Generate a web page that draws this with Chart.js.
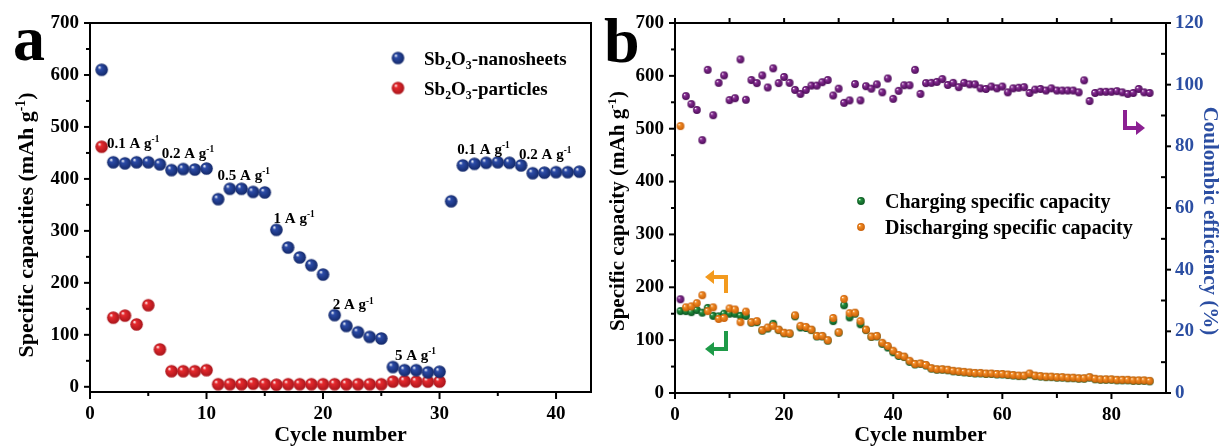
<!DOCTYPE html>
<html>
<head>
<meta charset="utf-8">
<script src="https://cdn.jsdelivr.net/npm/chart.js@4.4.1/dist/chart.umd.min.js"></script>
<style>
  html, body { margin: 0; padding: 0; background: #fff; }
  #wrap { position: relative; width: 1223px; height: 446px; }
  canvas { position: absolute; top: 0; }
  #rateChart { left: 0; }
  #cycleChart { left: 600px; }
</style>
</head>
<body>
<div id="wrap">
  <canvas id="rateChart" width="600" height="446"></canvas>
  <canvas id="cycleChart" width="623" height="446"></canvas>
</div>
<script>
// ---- (a) rate performance ----
const nanoCycles = [1, 2, 3, 4, 5, 6, 7, 8, 9, 10, 11, 12, 13, 14, 15, 16, 17, 18, 19, 20, 21,
  22, 23, 24, 25, 26, 27, 28, 29, 30, 31, 32, 33, 34, 35, 36, 37, 38, 39, 40, 41, 42];
const nanoCapacity = [610, 432, 430, 432, 432, 428, 417, 419, 418, 420,
  361, 381, 381, 375, 374, 302, 268, 249, 234, 216,
  138, 117, 105, 96, 93, 38, 32, 32, 28, 29,
  357, 426, 429, 431, 432, 431, 426, 411, 412, 413, 413, 414];
const particleCycles = [1, 2, 3, 4, 5, 6, 7, 8, 9, 10, 11, 12, 13, 14, 15,
  16, 17, 18, 19, 20, 21, 22, 23, 24, 25, 26, 27, 28, 29, 30];
const particleCapacity = [462, 133, 137, 120, 157, 72, 30, 30, 30, 32,
  5, 5, 5, 6, 5, 4, 5, 5, 5, 5, 5, 5, 5, 5, 5, 10, 11, 10, 10, 10];
const rateSteps = ['0.1', '0.2', '0.5', '1', '2', '5', '0.1', '0.2'];
const capTicksA = [0, 100, 200, 300, 400, 500, 600, 700];

// ---- (b) cycling at constant current ----
const cycles = [1, 2, 3, 4, 5, 6, 7, 8, 9, 10, 11, 12, 13, 14, 15, 16, 17, 18, 19, 20,
  21, 22, 23, 24, 25, 26, 27, 28, 29, 30, 31, 32, 33, 34, 35, 36, 37, 38, 39, 40,
  41, 42, 43, 44, 45, 46, 47, 48, 49, 50, 51, 52, 53, 54, 55, 56, 57, 58, 59, 60,
  61, 62, 63, 64, 65, 66, 67, 68, 69, 70, 71, 72, 73, 74, 75, 76, 77, 78, 79, 80,
  81, 82, 83, 84, 85, 86, 87];
const chargeCap = [155, 155, 153, 157, 152, 161, 146, 145, 150, 150,
  150, 146, 146, 133, 134, 118, 122, 131, 119, 113,
  112, 145, 124, 123, 119, 107, 107, 99, 136, 114,
  166, 143, 150, 130, 119, 106, 107, 93, 86, 77,
  70, 68, 59, 54, 55, 52, 46, 44, 44, 43,
  41, 40, 39, 38, 37, 37, 36, 36, 35, 35,
  34, 33, 32, 32, 35, 32, 31, 30, 30, 29,
  29, 28, 28, 27, 27, 29, 26, 25, 25, 25,
  24, 24, 24, 23, 23, 23, 22];
const dischargeCap = [505, 162, 164, 170, 185, 155, 162, 140, 142, 160,
  158, 134, 154, 134, 136, 119, 124, 127, 120, 114,
  113, 147, 127, 125, 120, 108, 108, 100, 142, 115,
  178, 151, 152, 136, 120, 107, 108, 95, 89, 80,
  72, 69, 61, 55, 56, 53, 47, 45, 45, 44,
  42, 41, 40, 39, 38, 38, 37, 37, 36, 36,
  35, 34, 33, 33, 37, 33, 32, 31, 31, 30,
  30, 29, 29, 28, 28, 30, 27, 26, 26, 26,
  25, 25, 25, 24, 24, 24, 23];
const efficiency = [30.4, 96.3, 93.7, 91.8, 82.0, 104.8, 90.1, 100.6, 103.0, 95.0,
  95.6, 108.2, 95.1, 101.5, 100.5, 103.0, 99.1, 105.3, 100.5, 102.5,
  100.6, 98.3, 97.0, 98.3, 99.7, 99.7, 100.8, 101.5, 96.5, 98.7,
  94.1, 94.9, 100.2, 94.9, 99.5, 98.7, 100.1, 97.5, 102.0, 95.4,
  98.0, 99.8, 99.8, 104.8, 97.0, 100.5, 100.6, 100.9, 101.8, 99.9,
  100.6, 99.2, 100.6, 100.1, 100.1, 98.8, 98.6, 99.4, 98.8, 99.4,
  97.5, 98.8, 99.0, 99.2, 97.3, 98.4, 98.6, 98.1, 98.8, 98.1,
  98.1, 98.1, 98.1, 97.5, 101.4, 94.7, 97.3, 97.7, 97.7, 97.7,
  97.9, 97.5, 97.0, 97.3, 98.6, 97.5, 97.3];

const SERIF = '"Liberation Serif", "Times New Roman", serif';
const CE_BLUE = '#2b4ea2';

function pairs(xs, ys) {
  return xs.map((x, i) => ({ x: x, y: ys[i] }));
}

// shaded ball used as point style
function ball(color, dark, r) {
  const c = document.createElement('canvas');
  const s = Math.ceil(r * 2 + 2);
  c.width = s; c.height = s;
  const g = c.getContext('2d');
  const m = s / 2;
  const grad = g.createRadialGradient(m - r * 0.38, m - r * 0.42, r * 0.05, m, m, r);
  grad.addColorStop(0, '#ffffff');
  grad.addColorStop(0.25, color);
  grad.addColorStop(1, dark);
  g.fillStyle = grad;
  g.beginPath();
  g.arc(m, m, r, 0, Math.PI * 2);
  g.fill();
  return c;
}

const ballBlue = ball('#2c4ca8', '#14296a', 6.3);
const ballRed = ball('#e72a2e', '#a8151b', 6.3);
const ballPurple = ball('#882c94', '#4e0e5a', 3.9);
const ballOrange = ball('#f48d24', '#c9600a', 3.9);
const ballGreen = ball('#24933f', '#0d5723', 3.9);

function font(size) {
  return 'bold ' + size + 'px ' + SERIF;
}

// text with sub/superscripts: parts are [text, mode], mode 1 = sup, -1 = sub
function drawRich(ctx, parts, x, y, size, align) {
  let w = 0;
  parts.forEach(([t, m]) => {
    ctx.font = font(m ? size * 0.62 : size);
    w += ctx.measureText(t).width;
  });
  let cx = align === 'center' ? x - w / 2 : x;
  ctx.textAlign = 'left';
  ctx.textBaseline = 'alphabetic';
  parts.forEach(([t, m]) => {
    ctx.font = font(m ? size * 0.62 : size);
    const dy = m === 1 ? -size * 0.38 : (m === -1 ? size * 0.22 : 0);
    ctx.fillText(t, cx, y + dy);
    cx += ctx.measureText(t).width;
  });
}

const unitParts = [['(mAh g', 0], ['-1', 1], [')', 0]];

// box around the plot plus outward / inward tick marks
function frameTicks(marks) {
  return {
    id: 'frameTicks',
    afterDraw(chart) {
      const { ctx, chartArea: a } = chart;
      ctx.save();
      ctx.strokeStyle = '#000';
      ctx.lineWidth = 2;
      ctx.strokeRect(a.left, a.top, a.right - a.left, a.bottom - a.top);
      marks.forEach(mk => {
        const sc = chart.scales[mk.scale];
        const sign = mk.out ? 1 : -1;
        ctx.strokeStyle = mk.color || '#000';
        mk.values.forEach(v => {
          const p = sc.getPixelForValue(v);
          ctx.beginPath();
          if (mk.edge === 'bottom') { ctx.moveTo(p, a.bottom); ctx.lineTo(p, a.bottom + sign * mk.len); }
          if (mk.edge === 'top') { ctx.moveTo(p, a.top); ctx.lineTo(p, a.top - sign * mk.len); }
          if (mk.edge === 'left') { ctx.moveTo(a.left, p); ctx.lineTo(a.left - sign * mk.len, p); }
          if (mk.edge === 'right') { ctx.moveTo(a.right, p); ctx.lineTo(a.right + sign * mk.len, p); }
          ctx.stroke();
        });
      });
      ctx.restore();
    }
  };
}

const tickFont = { family: SERIF, size: 19, weight: 'bold' };

// ---------------- chart a ----------------
const rateText = {
  id: 'rateText',
  afterDraw(chart) {
    const { ctx } = chart;
    const sx = chart.scales.x, sy = chart.scales.y;
    ctx.save();
    ctx.fillStyle = '#000';

    // current density labels
    const anchors = [[1.46, 460], [6.16, 441], [10.95, 398], [15.76, 316],
      [20.83, 149], [26.17, 52], [31.53, 448], [36.83, 438]];
    rateSteps.forEach((r, i) => {
      const [cx, cy] = anchors[i];
      drawRich(ctx, [[r + ' A g', 0], ['-1', 1]], sx.getPixelForValue(cx), sy.getPixelForValue(cy), 15, 'left');
    });

    // legend
    const legend = [[ballBlue, '-nanosheets', 58], [ballRed, '-particles', 88]];
    legend.forEach(([img, name, y]) => {
      ctx.drawImage(img, 398 - img.width / 2, y - img.height / 2);
      drawRich(ctx, [['Sb', 0], ['2', -1], ['O', 0], ['3', -1], [name, 0]], 424, y + 7, 19, 'left');
    });

    // axis titles
    drawRich(ctx, [['Cycle number', 0]], (chart.chartArea.left + chart.chartArea.right) / 2, 441, 22, 'center');
    ctx.save();
    ctx.translate(33, 225);
    ctx.rotate(-Math.PI / 2);
    drawRich(ctx, [['Specific capacities ', 0]].concat(unitParts), 0, 0, 22, 'center');
    ctx.restore();

    // panel letter
    ctx.font = font(64);
    ctx.textAlign = 'left';
    ctx.fillText('a', 13, 60);
    ctx.restore();
  }
};

new Chart(document.getElementById('rateChart'), {
  type: 'scatter',
  data: {
    datasets: [
      { label: 'Sb2O3-nanosheets', data: pairs(nanoCycles, nanoCapacity),
        pointStyle: ballBlue, pointRadius: 6, clip: false },
      { label: 'Sb2O3-particles', data: pairs(particleCycles, particleCapacity),
        pointStyle: ballRed, pointRadius: 6, clip: false }
    ]
  },
  options: {
    responsive: false,
    animation: false,
    events: [],
    layout: { padding: { top: 23, right: 9, left: 0, bottom: 0 } },
    plugins: { legend: { display: false }, tooltip: { enabled: false } },
    scales: {
      x: {
        type: 'linear', min: 0, max: 43,
        grid: { display: false, drawTicks: false }, border: { display: false },
        ticks: { stepSize: 10, includeBounds: false, padding: 11, color: '#000', font: tickFont, maxRotation: 0 },
        afterFit: s => { s.height = 54; }
      },
      y: {
        min: -10, max: 700,
        grid: { display: false, drawTicks: false }, border: { display: false },
        ticks: { padding: 11, color: '#000', font: tickFont },
        afterBuildTicks: s => { s.ticks = capTicksA.map(v => ({ value: v })); },
        afterFit: s => { s.width = 90; }
      }
    }
  },
  plugins: [frameTicks([
    { scale: 'x', edge: 'bottom', values: [0, 10, 20, 30, 40], len: 7, out: true },
    { scale: 'x', edge: 'bottom', values: [5, 15, 25, 35], len: 4, out: true },
    { scale: 'y', edge: 'left', values: capTicksA, len: 6, out: true },
    { scale: 'y', edge: 'left', values: [50, 150, 250, 350, 450, 550, 650], len: 4, out: true }
  ]), rateText]
});

// ---------------- chart b ----------------
function arrow(ctx, color, pts, tip, dir) {
  ctx.strokeStyle = color;
  ctx.fillStyle = color;
  ctx.lineWidth = 4;
  ctx.lineJoin = 'miter';
  ctx.beginPath();
  ctx.moveTo(pts[0][0], pts[0][1]);
  for (let i = 1; i < pts.length; i++) ctx.lineTo(pts[i][0], pts[i][1]);
  ctx.stroke();
  ctx.beginPath();
  ctx.moveTo(tip[0], tip[1]);
  ctx.lineTo(tip[0] - dir * 9, tip[1] - 7);
  ctx.lineTo(tip[0] - dir * 9, tip[1] + 7);
  ctx.closePath();
  ctx.fill();
}

const cycleText = {
  id: 'cycleText',
  afterDraw(chart) {
    const { ctx, chartArea: a } = chart;
    ctx.save();
    ctx.fillStyle = '#000';

    // legend
    const legend = [[ballGreen, 'Charging specific capacity', 201], [ballOrange, 'Discharging specific capacity', 227]];
    legend.forEach(([img, name, y]) => {
      ctx.drawImage(img, 261 - img.width / 2, y - img.height / 2);
      ctx.fillStyle = '#000';
      drawRich(ctx, [[name, 0]], 285, y + 7, 20, 'left');
    });

    // arrows pointing to the matching axis
    arrow(ctx, '#f39a1e', [[126, 293], [126, 277], [113, 277]], [105, 277], -1);
    arrow(ctx, '#1e9a48', [[126, 331], [126, 349], [113, 349]], [105, 349], -1);
    arrow(ctx, '#8b2092', [[525, 110], [525, 128], [537, 128]], [545, 128], 1);

    // axis titles
    ctx.fillStyle = '#000';
    drawRich(ctx, [['Cycle number', 0]], (a.left + a.right) / 2, 441, 22, 'center');
    ctx.save();
    ctx.translate(24, 211);
    ctx.rotate(-Math.PI / 2);
    drawRich(ctx, [['Specific capacity ', 0]].concat(unitParts), 0, 0, 21, 'center');
    ctx.restore();
    ctx.save();
    ctx.fillStyle = CE_BLUE;
    ctx.translate(604, 221);
    ctx.rotate(Math.PI / 2);
    drawRich(ctx, [['Coulombic efficiency (%)', 0]], 0, 0, 21, 'center');
    ctx.restore();

    // panel letter
    ctx.fillStyle = '#000';
    ctx.font = font(64);
    ctx.textAlign = 'left';
    ctx.fillText('b', 4, 62);
    ctx.restore();
  }
};

new Chart(document.getElementById('cycleChart'), {
  type: 'scatter',
  data: {
    datasets: [
      { label: 'Coulombic efficiency', data: pairs(cycles, efficiency), yAxisID: 'y1',
        pointStyle: ballPurple, pointRadius: 4, clip: false, order: 1 },
      { label: 'Discharging specific capacity', data: pairs(cycles, dischargeCap), yAxisID: 'y',
        pointStyle: ballOrange, pointRadius: 4, clip: false, order: 2 },
      { label: 'Charging specific capacity', data: pairs(cycles, chargeCap), yAxisID: 'y',
        pointStyle: ballGreen, pointRadius: 4, clip: false, order: 3 }
    ]
  },
  options: {
    responsive: false,
    animation: false,
    events: [],
    layout: { padding: { top: 23, right: 0, left: 0, bottom: 0 } },
    plugins: { legend: { display: false }, tooltip: { enabled: false } },
    scales: {
      x: {
        type: 'linear', min: 0, max: 90,
        grid: { display: false, drawTicks: false }, border: { display: false },
        ticks: { stepSize: 20, includeBounds: false, padding: 11, color: '#000', font: tickFont, maxRotation: 0 },
        afterFit: s => { s.height = 53; }
      },
      y: {
        position: 'left', min: 0, max: 700,
        grid: { display: false, drawTicks: false }, border: { display: false },
        ticks: { stepSize: 100, includeBounds: false, padding: 11, color: '#000', font: tickFont },
        afterFit: s => { s.width = 75; }
      },
      y1: {
        position: 'right', min: 0, max: 120,
        grid: { display: false, drawTicks: false }, border: { display: false },
        ticks: { stepSize: 20, includeBounds: false, padding: 9, color: CE_BLUE, font: tickFont },
        afterFit: s => { s.width = 57; }
      }
    }
  },
  plugins: [frameTicks([
    { scale: 'x', edge: 'bottom', values: [0, 20, 40, 60, 80], len: 6, out: true },
    { scale: 'x', edge: 'bottom', values: [10, 30, 50, 70], len: 5, out: true },
    { scale: 'x', edge: 'top', values: [0, 10, 20, 30, 40, 50, 60, 70, 80], len: 5, out: true },
    { scale: 'y', edge: 'left', values: [0, 100, 200, 300, 400, 500, 600, 700], len: 6, out: true },
    { scale: 'y', edge: 'left', values: [50, 150, 250, 350, 450, 550, 650], len: 4, out: true },
    { scale: 'y1', edge: 'right', values: [0, 20, 40, 60, 80, 100, 120], len: 5, out: true },
    { scale: 'y1', edge: 'right', values: [10, 30, 50, 70, 90, 110], len: 5, out: false }
  ]), cycleText]
});
</script>
</body>
</html>
